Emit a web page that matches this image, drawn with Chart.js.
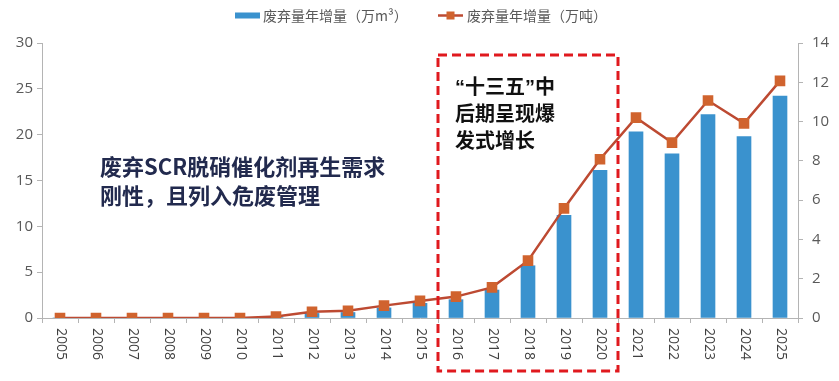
<!DOCTYPE html>
<html><head><meta charset="utf-8">
<script src="https://cdn.jsdelivr.net/npm/chart.js@4/dist/chart.umd.min.js"></script>
<style>html,body{margin:0;padding:0;background:#fff;}canvas{display:block}</style>
</head><body>
<canvas id="c" width="839" height="381"></canvas>
<script>
// ---- data ----
const years = ['2005','2006','2007','2008','2009','2010','2011','2012','2013','2014','2015','2016','2017','2018','2019','2020','2021','2022','2023','2024','2025'];
const volumeM3 = [0,0,0,0,0,0,0.05,0.5,0.6,1.1,1.6,2.0,3.05,5.7,11.2,16.1,20.3,17.9,22.2,19.8,24.2];
const weightT  = [0,0,0,0,0,0,0.08,0.32,0.37,0.63,0.87,1.09,1.56,2.92,5.58,8.08,10.2,8.93,11.07,9.91,12.07];
const leftTicks  = [0,5,10,15,20,25,30];
const rightTicks = [0,2,4,6,8,10,12,14];
const seriesNames = ['废弃量年增量（万m³）','废弃量年增量（万吨）'];
const noteLeft = ['废弃SCR脱硝催化剂再生需求','刚性，且列入危废管理'];
const noteBox  = ['“十三五”中','后期呈现爆','发式增长'];
const boxFrom = '2016', boxTo = '2020', boxTopValue = 28.7;

// ---- styles ----
const BLUE = '#3A92CE', LINE = '#BD4A32', MARK = '#D0632E', AXIS = '#B4B4B4';

const overlay = {
  id: 'overlay',
  afterDraw(chart) {
    const {ctx, chartArea: ca, scales: {x, y}} = chart;
    ctx.save();
    // rotated category labels (read top to bottom)
    ctx.font = '14px "Open Sans", "DejaVu Sans", sans-serif';
    ctx.fillStyle = '#404040';
    ctx.textAlign = 'left'; ctx.textBaseline = 'middle';
    years.forEach((lab, i) => {
      const px = x.getPixelForValue(i);
      ctx.save(); ctx.translate(px + 1, ca.bottom + 10); ctx.rotate(Math.PI / 2);
      ctx.fillText(lab, 0, 0); ctx.restore();
    });
    // legend
    const ly = 15.5;
    ctx.font = '14px "Noto Sans CJK SC", sans-serif';
    ctx.fillStyle = BLUE; ctx.fillRect(235, ly - 3, 25, 6);
    ctx.fillStyle = '#595959'; ctx.fillText(chart.data.datasets[0].label, 263, ly);
    ctx.strokeStyle = LINE; ctx.lineWidth = 2.5;
    ctx.beginPath(); ctx.moveTo(438, ly); ctx.lineTo(463, ly); ctx.stroke();
    ctx.fillStyle = MARK; ctx.fillRect(446.5, ly - 4, 8, 8);
    ctx.fillStyle = '#595959'; ctx.fillText(chart.data.datasets[1].label, 467, ly);
    // left note
    ctx.font = 'bold 22px "Noto Sans CJK SC", sans-serif';
    ctx.fillStyle = '#222A4E';
    noteLeft.forEach((t, i) => ctx.fillText(t, 100, 167 + i * 29));
    // red dashed box
    const i0 = years.indexOf(boxFrom), i1 = years.indexOf(boxTo);
    const bx0 = (x.getPixelForValue(i0 - 1) + x.getPixelForValue(i0)) / 2;
    const bx1 = (x.getPixelForValue(i1) + x.getPixelForValue(i1 + 1)) / 2;
    const by0 = y.getPixelForValue(boxTopValue);
    const by1 = ca.bottom + 53;
    ctx.setLineDash([9, 5]); ctx.lineWidth = 3; ctx.strokeStyle = '#E0191E';
    ctx.strokeRect(bx0, by0, bx1 - bx0, by1 - by0);
    ctx.setLineDash([]);
    ctx.font = 'bold 20px "Liberation Sans", "Noto Sans CJK SC", sans-serif';
    ctx.fillStyle = '#111';
    noteBox.forEach((t, i) => ctx.fillText(t, bx0 + 17, 88 + i * 27));
    ctx.restore();
  }
};

new Chart(document.getElementById('c'), {
  data: {
    labels: years,
    datasets: [
      { type: 'bar', label: seriesNames[0], data: volumeM3, backgroundColor: BLUE, barThickness: 14, yAxisID: 'y', order: 2 },
      { type: 'line', label: seriesNames[1], data: weightT, borderColor: LINE, borderWidth: 2.5,
        pointStyle: 'rect', pointRadius: 7.5, pointBackgroundColor: MARK, pointBorderColor: MARK, pointBorderWidth: 0,
        tension: 0, yAxisID: 'y2', order: 1 }
    ]
  },
  options: {
    responsive: false, animation: false, events: [],
    layout: { padding: { top: 43, left: 0, right: 0, bottom: 0 } },
    plugins: { legend: { display: false }, tooltip: { enabled: false } },
    scales: {
      x: {
        offset: true,
        grid: { display: true, offset: true, drawOnChartArea: false, drawTicks: true, tickLength: 5, color: AXIS },
        border: { display: true, color: AXIS, width: 1 },
        ticks: { display: false },
        afterFit(s) { s.height = 63; }
      },
      y: {
        position: 'left', min: leftTicks[0], max: leftTicks[leftTicks.length - 1],
        ticks: { stepSize: leftTicks[1] - leftTicks[0], padding: 4, color: '#595959', font: { family: '"Open Sans"', size: 15 } },
        grid: { drawOnChartArea: false, drawTicks: true, tickLength: 5, color: AXIS },
        border: { display: true, color: AXIS },
        afterFit(s) { s.width = 42; }
      },
      y2: {
        position: 'right', min: rightTicks[0], max: rightTicks[rightTicks.length - 1],
        ticks: { stepSize: rightTicks[1] - rightTicks[0], padding: 9, color: '#595959', font: { family: '"Open Sans"', size: 15 } },
        grid: { drawOnChartArea: false, drawTicks: true, tickLength: 5, color: AXIS },
        border: { display: true, color: AXIS },
        afterFit(s) { s.width = 41; }
      }
    }
  },
  plugins: [overlay]
});
</script>
</body></html>
